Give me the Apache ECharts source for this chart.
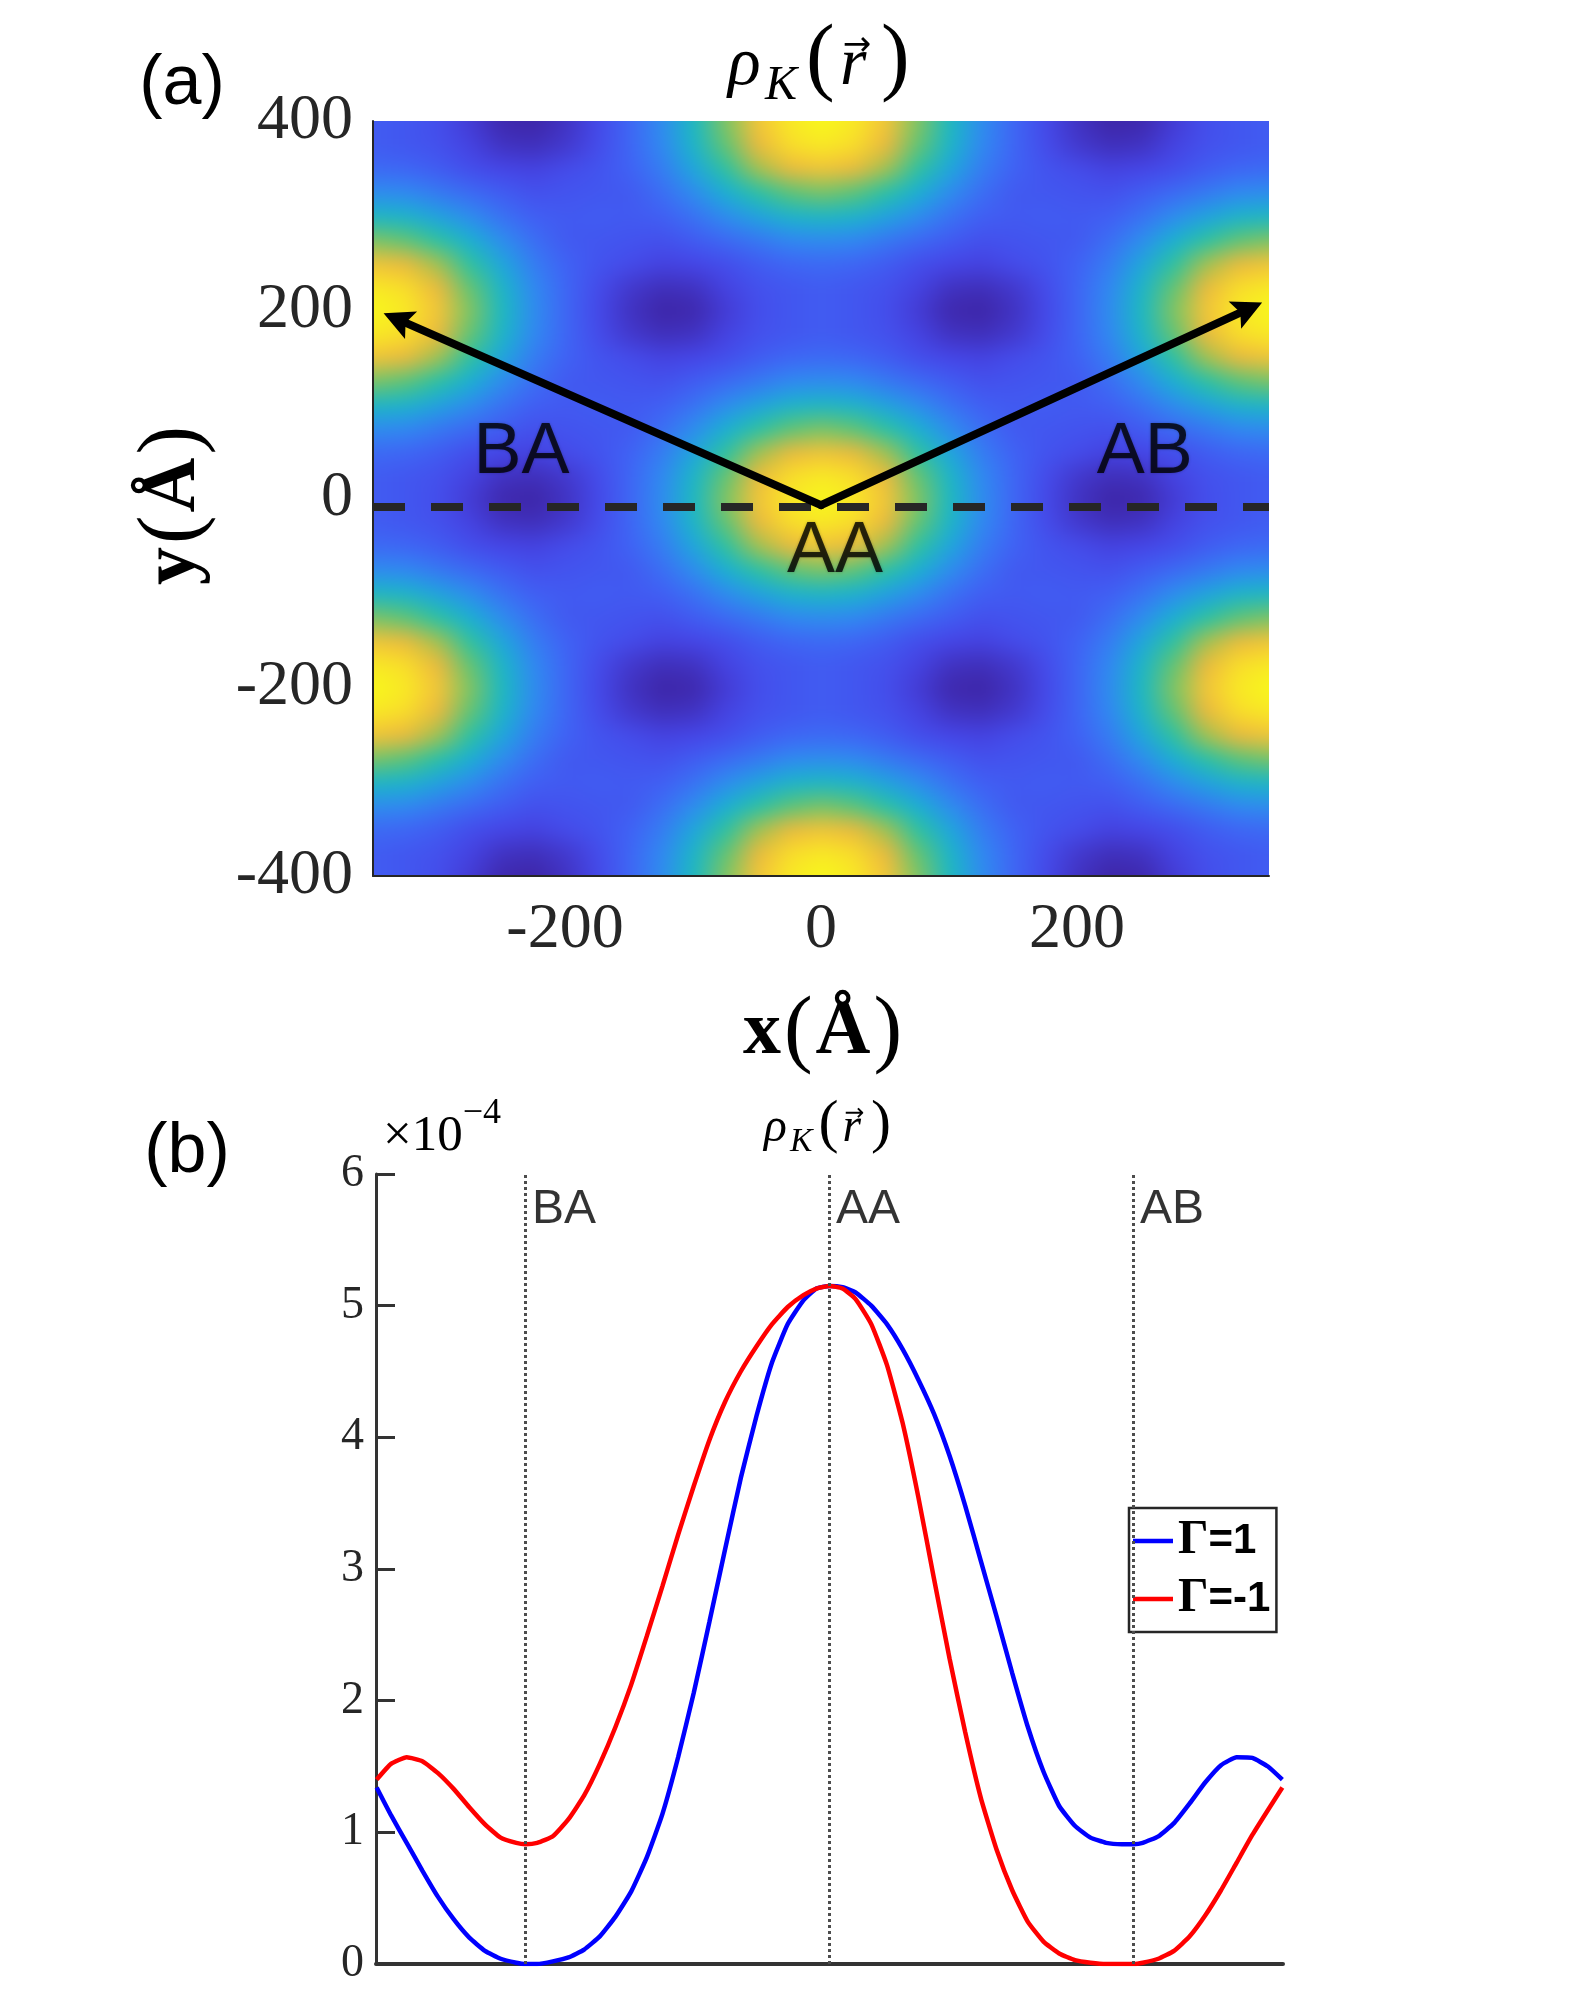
<!DOCTYPE html>
<html>
<head>
<meta charset="utf-8">
<title>rho_K(r)</title>
<script src="https://cdn.jsdelivr.net/npm/echarts@6.0.0/dist/echarts.min.js"></script>
<style>
  html, body { margin: 0; padding: 0; background: #fff; }
  #page { position: relative; width: 1578px; height: 1999px; }
  /* panel (a) plot area; heat canvas is 1px per cell, scaled up and softened by the browser */
  #heatClip { position: absolute; left: 373px; top: 121px; width: 896px; height: 755px; overflow: hidden; }
  #heatBlur { position: absolute; left: 0; top: 0; width: 896px; height: 755px; filter: blur(8px); }
  #heat { position: absolute; left: -48px; top: -35.4px; width: 31px; height: 35px;
          transform-origin: 0 0; transform: scale(32, 23.594); }
  #main { position: absolute; left: 0; top: 0; width: 1578px; height: 1999px; }
</style>
</head>
<body>
<div id="page">
  <div id="heatClip"><div id="heatBlur"><div id="heat"></div></div></div>
  <div id="main"></div>
</div>
<script>
// ---- panel (a): density map, cell centres every 25 A ----
var heatX = [-350,-325,-300,-275,-250,-225,-200,-175,-150,-125,-100,-75,-50,-25,0,
             25,50,75,100,125,150,175,200,225,250,275,300,325,350];
var heatY = [400,375,350,325,300,275,250,225,200,175,150,125,100,75,50,25,0,
             -25,-50,-75,-100,-125,-150,-175,-200,-225,-250,-275,-300,-325,-350,-375,-400];
// colour level 0..100, rows from y=400 (top) down to y=-400
var heatRows = [
  [18,16,13,7,1,0,4,11,21,31,46,65,85,96,100,96,85,65,46,31,21,11,4,0,1,7,13,16,18],
  [18,16,14,9,4,3,6,12,21,30,44,62,80,93,96,93,80,62,44,30,21,12,6,3,4,9,14,16,18],
  [22,21,18,13,10,9,12,15,20,27,38,53,68,80,84,80,68,53,38,27,20,15,12,9,10,13,18,21,22],
  [31,30,26,22,18,14,15,16,17,23,31,41,52,61,64,61,52,41,31,23,17,16,15,14,18,22,26,30,31],
  [45,43,37,31,24,19,17,18,17,19,24,31,37,43,45,43,37,31,24,19,17,18,17,19,24,31,37,43,45],
  [64,61,52,41,31,23,17,16,15,14,18,22,26,30,31,30,26,22,18,14,15,16,17,23,31,41,52,61,64],
  [84,80,68,53,38,27,20,15,12,9,10,13,18,21,22,21,18,13,10,9,12,15,20,27,38,53,68,80,84],
  [96,93,80,62,44,30,21,12,6,3,4,9,14,16,18,16,14,9,4,3,6,12,21,30,44,62,80,93,96],
  [100,96,85,65,46,31,21,11,4,0,1,7,13,16,18,16,13,7,1,0,4,11,21,31,46,65,85,96,100],
  [96,93,80,62,44,30,21,12,6,3,4,9,14,16,18,16,14,9,4,3,6,12,21,30,44,62,80,93,96],
  [84,80,68,53,38,27,20,15,12,9,10,13,18,21,22,21,18,13,10,9,12,15,20,27,38,53,68,80,84],
  [64,61,52,41,31,23,17,16,15,14,18,22,26,30,31,30,26,22,18,14,15,16,17,23,31,41,52,61,64],
  [45,43,37,31,24,19,17,18,17,19,24,31,37,43,45,43,37,31,24,19,17,18,17,19,24,31,37,43,45],
  [31,30,26,22,18,14,15,16,17,23,31,41,52,61,64,61,52,41,31,23,17,16,15,14,18,22,26,30,31],
  [22,21,18,13,10,9,12,15,20,27,38,53,68,80,84,80,68,53,38,27,20,15,12,9,10,13,18,21,22],
  [18,16,14,9,4,3,6,12,21,30,44,62,80,93,96,93,80,62,44,30,21,12,6,3,4,9,14,16,18],
  [18,16,13,7,1,0,4,11,21,31,46,65,85,96,100,96,85,65,46,31,21,11,4,0,1,7,13,16,18],
  [18,16,14,9,4,3,6,12,21,30,44,62,80,93,96,93,80,62,44,30,21,12,6,3,4,9,14,16,18],
  [22,21,18,13,10,9,12,15,20,27,38,53,68,80,84,80,68,53,38,27,20,15,12,9,10,13,18,21,22],
  [31,30,26,22,18,14,15,16,17,23,31,41,52,61,64,61,52,41,31,23,17,16,15,14,18,22,26,30,31],
  [45,43,37,31,24,19,17,18,17,19,24,31,37,43,45,43,37,31,24,19,17,18,17,19,24,31,37,43,45],
  [64,61,52,41,31,23,17,16,15,14,18,22,26,30,31,30,26,22,18,14,15,16,17,23,31,41,52,61,64],
  [84,80,68,53,38,27,20,15,12,9,10,13,18,21,22,21,18,13,10,9,12,15,20,27,38,53,68,80,84],
  [96,93,80,62,44,30,21,12,6,3,4,9,14,16,18,16,14,9,4,3,6,12,21,30,44,62,80,93,96],
  [100,96,85,65,46,31,21,11,4,0,1,7,13,16,18,16,13,7,1,0,4,11,21,31,46,65,85,96,100],
  [96,93,80,62,44,30,21,12,6,3,4,9,14,16,18,16,14,9,4,3,6,12,21,30,44,62,80,93,96],
  [84,80,68,53,38,27,20,15,12,9,10,13,18,21,22,21,18,13,10,9,12,15,20,27,38,53,68,80,84],
  [64,61,52,41,31,23,17,16,15,14,18,22,26,30,31,30,26,22,18,14,15,16,17,23,31,41,52,61,64],
  [45,43,37,31,24,19,17,18,17,19,24,31,37,43,45,43,37,31,24,19,17,18,17,19,24,31,37,43,45],
  [31,30,26,22,18,14,15,16,17,23,31,41,52,61,64,61,52,41,31,23,17,16,15,14,18,22,26,30,31],
  [22,21,18,13,10,9,12,15,20,27,38,53,68,80,84,80,68,53,38,27,20,15,12,9,10,13,18,21,22],
  [18,16,14,9,4,3,6,12,21,30,44,62,80,93,96,93,80,62,44,30,21,12,6,3,4,9,14,16,18],
  [18,16,13,7,1,0,4,11,21,31,46,65,85,96,100,96,85,65,46,31,21,11,4,0,1,7,13,16,18]
];
var xTicksA = [-200, 0, 200];

// annotations of panel (a), in data coordinates (arrow ends are where the head is centred)
var arrowBase = [0, -7];
var arrowTips = [[-331, 190], [334, 201]];
var cutY = -9;
var regionLabelsA = [[-234, 48, 'BA'], [253, 48, 'AB'], [11, -57, 'AA']];

// ---- panel (b): line cut along y=0, values x 1e-4 ----
var cutX = [-347,-336,-324,-312,-300,-288,-276,-264,-252,-240,-233,-224,-212,-200,-188,-176,-164,-152,-140,
            -128,-116,-104,-92,-80,-68,-56,-44,-32,-20,-10,0,10,20,32,44,56,68,80,92,104,116,128,140,152,
            164,176,188,200,212,224,233,240,252,264,276,288,300,312,324,336,347];
var gammaPlus = [1.34,1.13,0.92,0.71,0.51,0.34,0.20,0.10,0.04,0.01,0.00,0.00,0.02,0.05,0.11,0.21,0.36,0.55,0.81,
                 1.14,1.57,2.06,2.60,3.15,3.69,4.16,4.57,4.86,5.04,5.13,5.15,5.14,5.10,5.00,4.86,4.67,4.44,4.18,
                 3.86,3.48,3.06,2.64,2.21,1.80,1.46,1.20,1.05,0.96,0.92,0.91,0.91,0.92,0.97,1.07,1.22,1.38,1.51,
                 1.57,1.565,1.50,1.40];
var gammaMinus = [1.40,1.52,1.57,1.54,1.45,1.33,1.19,1.06,0.96,0.92,0.91,0.92,0.97,1.10,1.28,1.52,1.80,2.12,2.49,
                  2.87,3.26,3.63,3.98,4.27,4.50,4.69,4.86,4.99,5.08,5.13,5.15,5.13,5.05,4.86,4.55,4.11,3.55,2.93,
                  2.32,1.76,1.26,0.87,0.56,0.32,0.17,0.08,0.03,0.01,0.00,0.00,0.00,0.01,0.04,0.10,0.21,0.37,0.56,
                  0.77,0.98,1.17,1.34];
var siteX = [-233, 0, 233];
var siteLabelsB = [[-233, 5.73, 'BA'], [0, 5.73, 'AA'], [233, 5.73, 'AB']];

var serif = 'Liberation Serif';
var sans = 'Liberation Sans';
var ink = '#262626';
var parulaStops = ['#3e26a8','#4646e8','#4062f5','#3189f2','#1aaed8','#1cc2b2',
                   '#4ec67c','#b4c145','#eeb73f','#fad232','#f8f81c'];
var arrowHead = 'path://M0,-15 L12,15 L0,9 L-12,15 Z';

// heat layer (edge cells are stretched one cell outward so the softening has no empty border)
var heatData = [];
heatRows.forEach(function (row, i) {
  row.forEach(function (v, j) { heatData.push([heatX[j], heatY[i], v]); });
});
var xFirst = heatX[0], xLast = heatX[heatX.length - 1];
var yFirst = heatY[0], yLast = heatY[heatY.length - 1];
var heatChart = echarts.init(document.getElementById('heat'), null,
  { renderer: 'canvas', devicePixelRatio: 1, width: 31, height: 35 });
heatChart.setOption({
  animation: false,
  grid: { left: 0, right: 0, top: 0, bottom: 0 },
  xAxis: { type: 'value', min: -387.5, max: 387.5, show: false },
  yAxis: { type: 'value', min: -437.5, max: 437.5, show: false },
  visualMap: { type: 'continuous', min: 0, max: 100, dimension: 2, show: false,
               inRange: { color: parulaStops } },
  series: [{
    type: 'custom',
    clip: false,
    data: heatData,
    renderItem: function (params, api) {
      var x = api.value(0), y = api.value(1);
      var x0 = x - 12.5, x1 = x + 12.5, y0 = y + 12.5, y1 = y - 12.5;
      if (x === xFirst) x0 -= 25;
      if (x === xLast) x1 += 25;
      if (y === yFirst) y0 += 25;
      if (y === yLast) y1 -= 25;
      var a = api.coord([x0, y0]);
      var b = api.coord([x1, y1]);
      return { type: 'rect', shape: { x: a[0], y: a[1], width: b[0] - a[0], height: b[1] - a[1] },
               style: { fill: api.visual('color') } };
    }
  }]
});

// rho_K(r-vector) built from pieces so the arrow sits over the r
function titleParts(left, midY, s) {
  function piece(dx, dy, txt, size, italic, align, family) {
    return { type: 'text', x: left + dx * s, y: midY + dy * s, silent: true,
      style: { text: txt, fontFamily: family || serif, fontStyle: italic ? 'italic' : 'normal',
               fontSize: size * s, fill: '#000', align: align || 'left', verticalAlign: 'middle' } };
  }
  return [
    piece(0, -4, 'ρ', 68, true),
    piece(37, 16, 'K', 48, true),
    piece(78, -9, '(', 86, false),
    piece(112, -4, 'r', 68, true),
    piece(129, -24, '→', 34, false, 'center', 'DejaVu Sans'),
    piece(153, -9, ')', 86, false)
  ];
}
var axisNameRich = {
  b: { fontFamily: serif, fontWeight: 'bold', fontSize: 76, color: ink },
  p: { fontFamily: serif, fontSize: 86, color: ink, padding: [0, 3, 0, 3] }
};

var chart = echarts.init(document.getElementById('main'), null, { renderer: 'canvas' });
chart.setOption({
  animation: false,
  backgroundColor: 'transparent',
  grid: [
    { left: 373, top: 121, width: 896, height: 755 },
    { left: 376, top: 1174, width: 907, height: 790 }
  ],
  xAxis: [
    { gridIndex: 0, type: 'value', min: -350, max: 350,
      axisLine: { show: true, onZero: false, lineStyle: { color: ink, width: 2 } },
      axisTick: { show: false }, splitLine: { show: false },
      axisLabel: { customValues: xTicksA, fontFamily: serif, fontSize: 64, color: ink, margin: 22 } },
    { gridIndex: 1, type: 'value', min: -347.5, max: 347.5,
      axisLine: { show: true, onZero: false, lineStyle: { color: '#333', width: 4 } },
      axisTick: { show: false }, axisLabel: { show: false }, splitLine: { show: false } }
  ],
  yAxis: [
    { gridIndex: 0, type: 'value', min: -400, max: 400, interval: 200,
      axisLine: { show: true, onZero: false, lineStyle: { color: ink, width: 2 } },
      axisTick: { show: false }, splitLine: { show: false },
      axisLabel: { fontFamily: serif, fontSize: 64, color: ink, margin: 20 } },
    { gridIndex: 1, type: 'value', min: 0, max: 6, interval: 1,
      axisLine: { show: true, onZero: false, lineStyle: { color: '#333', width: 3 } },
      axisTick: { show: true, inside: true, length: 19, lineStyle: { color: '#333', width: 3 } },
      splitLine: { show: false },
      axisLabel: { fontFamily: serif, fontSize: 46, color: ink, margin: 12 } }
  ],
  legend: {
    data: ['Γ=1', 'Γ=-1'],
    orient: 'vertical', left: 1129, top: 1508,
    padding: [8, 6, 8, 4], itemGap: 8, itemWidth: 40, itemHeight: 4.5, itemTextGap: 4,
    icon: 'rect',
    backgroundColor: '#fff', borderColor: '#262626', borderWidth: 2.5, borderRadius: 0,
    selectedMode: false,
    formatter: function (n) { return '{g|Γ}{t|' + n.slice(1) + '}'; },
    textStyle: { lineHeight: 50, rich: {
      g: { fontFamily: serif, fontWeight: 'bold', fontSize: 48, color: '#000' },
      t: { fontFamily: sans, fontWeight: 'bold', fontSize: 42, color: '#000' }
    } }
  },
  series: [
    { type: 'lines', coordinateSystem: 'cartesian2d', xAxisIndex: 0, yAxisIndex: 0, z: 3,
      symbol: 'none',
      lineStyle: { color: '#262626', width: 8, type: [32, 26], opacity: 1 },
      data: [{ coords: [[-350, cutY], [350, cutY]] }] },
    { type: 'lines', coordinateSystem: 'cartesian2d', xAxisIndex: 0, yAxisIndex: 0, z: 4,
      symbol: ['none', arrowHead], symbolSize: [10, 30],
      lineStyle: { color: '#000', width: 8, opacity: 1, cap: 'round' },
      data: arrowTips.map(function (t) { return { coords: [arrowBase, t] }; }) },
    { type: 'scatter', xAxisIndex: 0, yAxisIndex: 0, z: 5, symbolSize: 1, silent: true,
      itemStyle: { color: 'transparent' },
      label: { show: true, position: 'inside', formatter: function (p) { return p.value[2]; },
               fontFamily: sans, fontSize: 72, color: '#000',
               textShadowColor: 'rgba(0,0,0,0.3)', textShadowBlur: 3 },
      data: regionLabelsA },
    { name: 'Γ=1', type: 'line', xAxisIndex: 1, yAxisIndex: 1, symbol: 'none', smooth: 0.15,
      color: '#0000ff', lineStyle: { color: '#0000ff', width: 4.5 },
      data: cutX.map(function (x, i) { return [x, gammaPlus[i]]; }),
      markLine: { silent: true, symbol: 'none', label: { show: false }, animation: false,
                  lineStyle: { color: '#4d4d4d', type: [3, 3], width: 3 },
                  data: siteX.map(function (x) { return { xAxis: x }; }) } },
    { name: 'Γ=-1', type: 'line', xAxisIndex: 1, yAxisIndex: 1, symbol: 'none', smooth: 0.15,
      color: '#ff0000', lineStyle: { color: '#ff0000', width: 4.5 },
      data: cutX.map(function (x, i) { return [x, gammaMinus[i]]; }) },
    { type: 'scatter', xAxisIndex: 1, yAxisIndex: 1, symbolSize: 1, silent: true,
      itemStyle: { color: 'transparent' },
      label: { show: true, position: 'right', distance: 6, formatter: function (p) { return p.value[2]; },
               fontFamily: sans, fontSize: 48, color: '#000' },
      data: siteLabelsB }
  ],
  graphic: [
    { type: 'text', x: 182, y: 85, style: { text: '(a)', fontFamily: sans, fontSize: 70, fill: '#000',
      align: 'center', verticalAlign: 'middle' } },
    { type: 'text', x: 187, y: 1153, style: { text: '(b)', fontFamily: sans, fontSize: 70, fill: '#000',
      align: 'center', verticalAlign: 'middle' } },
    { type: 'text', x: 824, y: 1033, style: { text: '{b|x}{p|(}{b|Å}{p|)}', rich: axisNameRich,
      align: 'center', verticalAlign: 'middle' } },
    { type: 'text', x: 174, y: 504, rotation: Math.PI / 2, style: { text: '{b|y}{p|(}{b|Å}{p|)}', rich: axisNameRich,
      align: 'center', verticalAlign: 'middle' } },
    { type: 'text', x: 383, y: 1162, style: { text: '{a|×10}{s|\u22124}',
      align: 'left', verticalAlign: 'bottom',
      rich: { a: { fontFamily: serif, fontSize: 51, color: ink, lineHeight: 66, verticalAlign: 'bottom' },
              s: { fontFamily: serif, fontSize: 36, color: ink, lineHeight: 66, verticalAlign: 'top' } } } }
  ].concat(titleParts(728, 70, 1), titleParts(764, 1131, 0.7))
});
</script>
</body>
</html>
